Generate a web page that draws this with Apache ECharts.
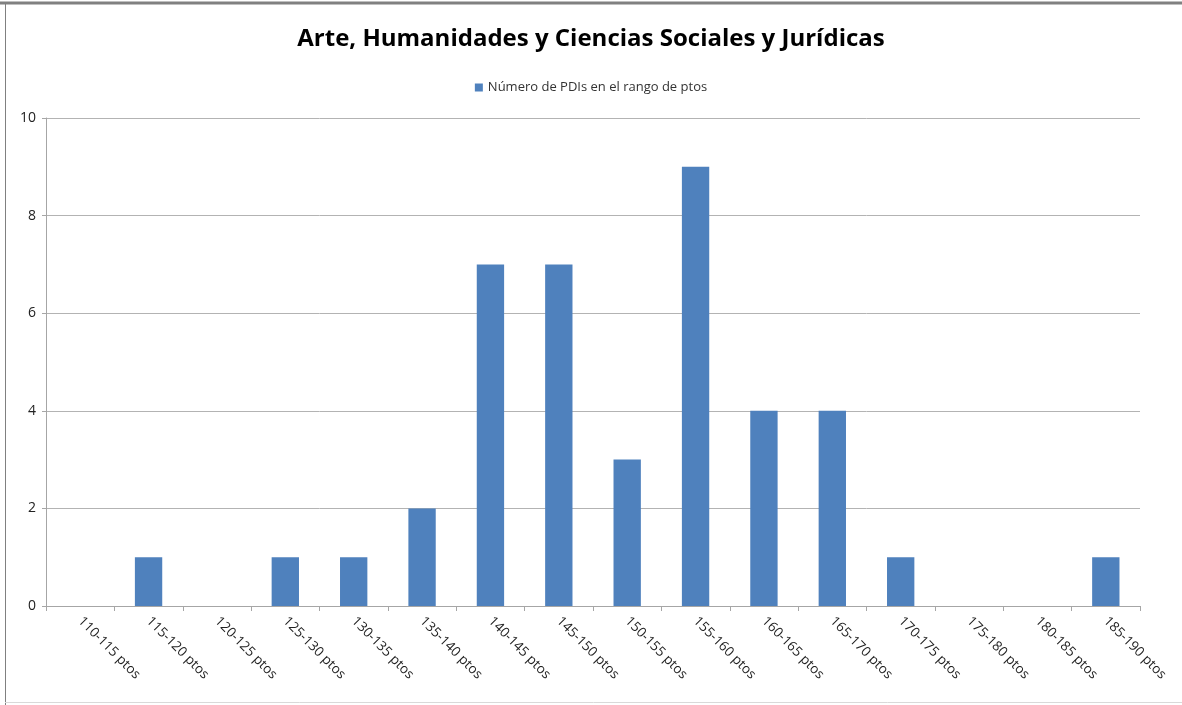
<!DOCTYPE html>
<html>
<head>
<meta charset="utf-8">
<script src="https://cdn.jsdelivr.net/npm/echarts@6/dist/echarts.min.js"></script>
<style>
  html, body { margin: 0; padding: 0; background: #fff; }
  #chart { width: 1182px; height: 705px; }
</style>
</head>
<body>
<div id="chart"></div>
<script>
var categories = ['110-115 ptos', '115-120 ptos', '120-125 ptos', '125-130 ptos', '130-135 ptos',
  '135-140 ptos', '140-145 ptos', '145-150 ptos', '150-155 ptos', '155-160 ptos', '160-165 ptos',
  '165-170 ptos', '170-175 ptos', '175-180 ptos', '180-185 ptos', '185-190 ptos']
var counts = [0, 1, 0, 1, 1, 2, 7, 7, 3, 9, 4, 4, 1, 0, 0, 1]
var seriesName = 'Número de PDIs en el rango de ptos'
var titleText = 'Arte, Humanidades y Ciencias Sociales y Jurídicas'

var font = "'Open Sans', sans-serif"
var chart = echarts.init(document.getElementById('chart'))
chart.setOption({
  animation: false,
  textStyle: { fontFamily: font },
  title: {
    text: titleText,
    left: 'center',
    top: 22,
    textStyle: { fontSize: 24, fontWeight: 'bold', color: '#000', fontFamily: font }
  },
  legend: {
    data: [seriesName],
    top: 76,
    left: 'center',
    icon: 'rect',
    itemWidth: 8,
    itemHeight: 8,
    itemGap: 4,
    textStyle: { fontSize: 13, color: '#333', fontFamily: font }
  },
  graphic: [
    { type: 'line', shape: { x1: 0, y1: 3, x2: 1182, y2: 3 }, style: { stroke: '#808080', lineWidth: 3 } },
    { type: 'line', shape: { x1: 5.5, y1: 3, x2: 5.5, y2: 705 }, style: { stroke: '#808080', lineWidth: 1 } },
    { type: 'line', shape: { x1: 5, y1: 702.5, x2: 1182, y2: 702.5 }, style: { stroke: '#d9d9d9', lineWidth: 1 } }
  ],
  grid: { left: 46, right: 42, top: 118, bottom: 99 },
  xAxis: {
    type: 'category',
    data: categories,
    axisLine: { lineStyle: { color: '#a6a6a6' } },
    axisTick: { show: true, length: 5, lineStyle: { color: '#a6a6a6' } },
    axisLabel: { rotate: -45, fontSize: 13.5, color: '#222', margin: 13, interval: 0, fontFamily: font }
  },
  yAxis: {
    type: 'value',
    min: 0,
    max: 10,
    interval: 2,
    axisLine: { show: true, lineStyle: { color: '#a6a6a6' } },
    axisTick: { show: true, length: 4, lineStyle: { color: '#a6a6a6' } },
    axisLabel: { fontSize: 14, color: '#222', margin: 10, fontFamily: font },
    splitLine: { lineStyle: { color: '#b3b3b3' } }
  },
  series: [{
    name: seriesName,
    type: 'bar',
    data: counts,
    barWidth: '40%',
    itemStyle: { color: '#4f81bd' }
  }]
})
</script>
</body>
</html>
